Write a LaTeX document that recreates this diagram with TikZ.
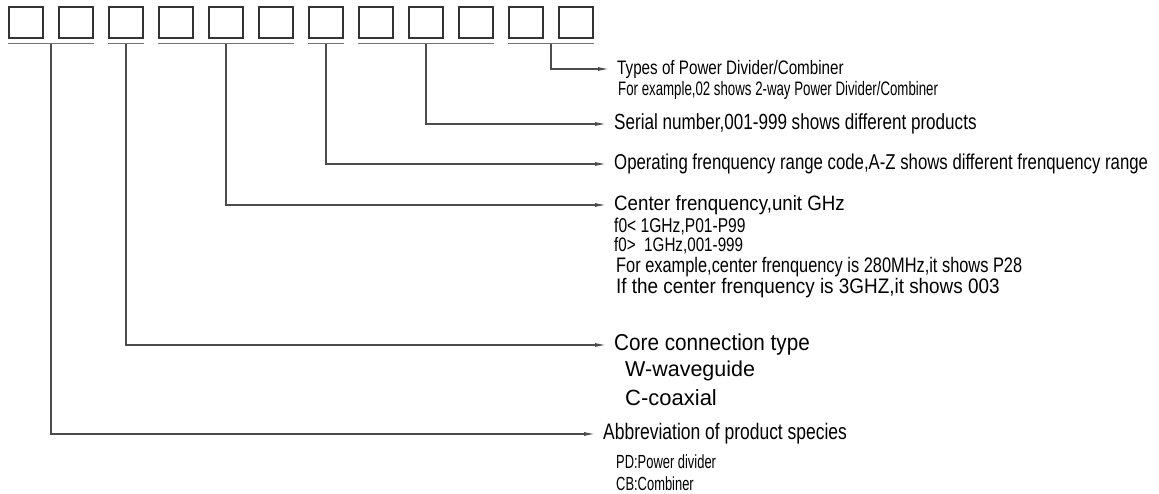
\documentclass[tikz,border=0pt]{standalone}
\usepackage{fontspec}
\setmainfont[FakeStretch=0.78]{Liberation Sans}
\newfontfamily\widefont{Liberation Sans}
\newfontfamily\midfont[FakeStretch=0.9]{Liberation Sans}
\newfontfamily\narrowfont[FakeStretch=0.68]{Liberation Sans}
\usepackage{tikz}
\usetikzlibrary{arrows.meta,positioning,calc}
\tikzset{
  digit/.style={draw=black!80, line width=1.4pt, minimum width=34pt, minimum height=31pt, inner sep=0pt},
  group/.style={draw=black!55, line width=1.6pt},
  lead/.style={draw=black!70, line width=1.1pt, -{Latex[length=11pt,width=4pt]}, shorten >=8pt},
  lbl/.style={anchor=west, inner sep=0pt, font=\fontsize{#1}{#1}\selectfont},
  mid/.style={lbl=#1, font=\midfont\fontsize{#1}{#1}\selectfont},
  wide/.style={lbl=#1, font=\widefont\fontsize{#1}{#1}\selectfont},
  narrow/.style={lbl=#1, font=\narrowfont\fontsize{#1}{#1}\selectfont},
}
\begin{document}
\begin{tikzpicture}[x=1pt, y=-1pt]
  \path[use as bounding box, fill=white] (0,0) rectangle (1159,494);
  % the twelve code positions
  \foreach \i in {1,...,12} { \node[digit] (b\i) at ({26+50*(\i-1)},22.5) {}; }
  \foreach \a/\b/\g in {1/2/1,3/3/2,4/6/3,7/7/4,8/10/5,11/12/6} {
    \draw[group] ([yshift=-5pt]b\a.south west) -- coordinate[midway] (u\g) ([yshift=-5pt]b\b.south east);
  }
  % explanations
  \node[lbl=19.5] (t6) at (617,69) {Types of Power Divider/Combiner};
  \node[narrow=19.5] (t6a) at (618,90) {For example,02 shows 2-way Power Divider/Combiner};
  \node[lbl=21.9] (t5) at (614,124) {Serial number,001-999 shows different products};
  \node[lbl=21.5] (t4) at (614,164) {Operating frenquency range code,A-Z shows different frenquency range};
  \node[mid=20.8] (t3) at (614,205) {Center frenquency,unit GHz};
  \node[lbl=20] (t3a) at (614,227) {f0< 1GHz,P01-P99};
  \node[lbl=19.5] (t3b) at (614,246) {f0>\ \ 1GHz,001-999};
  \node[lbl=21] (t3c) at (616,267) {For example,center frenquency is 280MHz,it shows P28};
  \node[mid=21] (t3d) at (616,288) {If the center frenquency is 3GHZ,it shows 003};
  \node[mid=23] (t2) at (614,345) {Core connection type};
  \node[wide=21.5] (t2a) at (625,371) {W-waveguide};
  \node[wide=22] (t2b) at (625,398) {C-coaxial};
  \node[lbl=22.4] (t1) at (603,434) {Abbreviation of product species};
  \node[narrow=19] (t1a) at (616,462) {PD:Power divider};
  \node[narrow=19] (t1b) at (616,484) {CB:Combiner};
  \foreach \g in {1,...,6} { \draw[lead] (u\g) |- (t\g.west); }
\end{tikzpicture}
\end{document}
